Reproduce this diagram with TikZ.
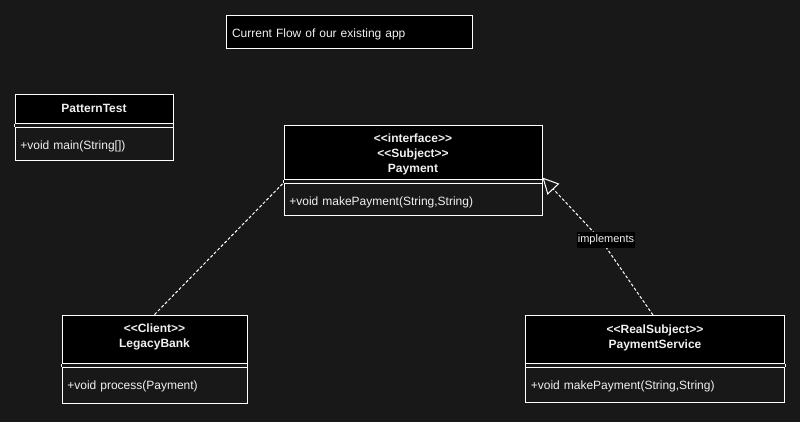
\documentclass[tikz,border=0pt]{standalone}
\usepackage{fontspec}
\newfontfamily\umlfont{Liberation Sans}
\usetikzlibrary{positioning,arrows.meta}

\definecolor{bgdark}{HTML}{181818}
\definecolor{txtlight}{HTML}{F0F0F0}

\tikzset{
  classhead/.style={draw=white, fill=black, line width=0.75pt, inner sep=0pt},
  classtitle/.style={text=txtlight, font=\umlfont\fontsize{9}{11.25}\selectfont\bfseries,
    align=center, inner sep=0pt},
  classbody/.style={draw=white, line width=0.75pt, text=txtlight,
    font=\umlfont\fontsize{9}{11.25}\selectfont, align=left, inner xsep=4pt, inner ysep=0pt,
    text height=16.5pt},
  classedge/.style={draw=white, line width=0.75pt},
  depline/.style={draw=white, line width=0.75pt, dash pattern=on 2.25pt off 1.5pt},
  implabel/.style={fill=black, text=txtlight, font=\umlfont\fontsize{8.25}{10}\selectfont,
    inner xsep=1pt, inner ysep=2pt}
}

\begin{document}
\begin{tikzpicture}[x=0.75pt, y=-0.75pt]

  \useasboundingbox[fill=bgdark] (0,0) rectangle (800,422);

  % caption box
  \node[draw=white, fill=black, line width=0.75pt, text=txtlight,
    font=\umlfont\fontsize{9}{11.25}\selectfont, text width=175.5pt, align=left,
    inner xsep=4.5pt, inner ysep=0pt, text height=16.8pt, text depth=7.95pt] (flow)
    at (349,31.5) {Current Flow of our existing app};

  % PatternTest
  \node[classhead, minimum width=118.5pt, minimum height=21.4pt] (pth) at (94,109.25) {};
  \node[classtitle, below=6.8pt of pth.north] (ptt) {PatternTest};
  \node[classbody, text width=110.5pt, text depth=8.5pt, below=2.25pt of pth] (ptb)
    {+void main(String[])};
  \draw[classedge] (pth.south west) -- (ptb.north west) (pth.south east) -- (ptb.north east);

  % Payment
  \node[classhead, minimum width=193.5pt, minimum height=40.7pt] (pmh) at (413,152.2) {};
  \node[classtitle, below=6.8pt of pmh.north] (pmt)
    {<\/<interface>\/>\\<\/<Subject>\/>\\Payment};
  \node[classbody, text width=185.5pt, text depth=7.3pt, below=2.25pt of pmh] (pmb)
    {+void makePayment(String,String)};
  \draw[classedge] (pmh.south west) -- (pmb.north west) (pmh.south east) -- (pmb.north east);

  % LegacyBank
  \node[classhead, minimum width=138.75pt, minimum height=36.2pt] (lbh) at (154.5,339.2) {};
  \node[classtitle, below=6.8pt of lbh.north] (lbt) {<\/<Client>\/>\\LegacyBank};
  \node[classbody, text width=130.75pt, text depth=10.3pt, below=2.25pt of lbh] (lbb)
    {+void process(Payment)};
  \draw[classedge] (lbh.south west) -- (lbb.north west) (lbh.south east) -- (lbb.north east);

  % PaymentService
  \node[classhead, minimum width=194.25pt, minimum height=35.9pt] (psh) at (655,339.5) {};
  \node[classtitle, below=6.8pt of psh.north] (pst) {<\/<RealSubject>\/>\\PaymentService};
  \node[classbody, text width=186.25pt, text depth=10pt, below=2.25pt of psh] (psb)
    {+void makePayment(String,String)};
  \draw[classedge] (psh.south west) -- (psb.north west) (psh.south east) -- (psb.north east);

  % connectors
  \coordinate (bend) at (601,240);
  \draw[depline] (lbh.north) -- (pmb.north west);
  \draw[depline, -{Triangle[open, length=12pt, width=12pt]}] ([xshift=-1.5pt]psh.north)
    -- (bend) -- ([yshift=1.7pt]pmh.south east);
  \node[implabel, xshift=3.75pt] (impl) at (bend) {implements};

\end{tikzpicture}
\end{document}
